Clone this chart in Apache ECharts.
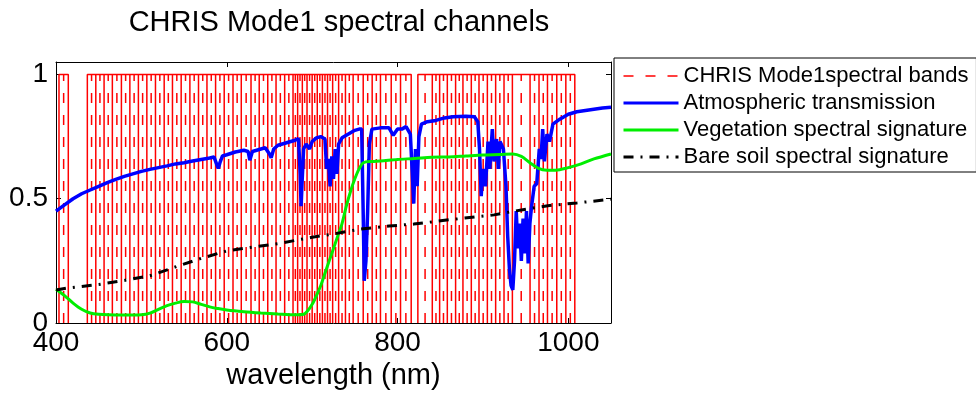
<!DOCTYPE html>
<html>
<head>
<meta charset="utf-8">
<title>CHRIS Mode1 spectral channels</title>
<script src="https://cdn.jsdelivr.net/npm/echarts@6/dist/echarts.min.js"></script>
<style>
  html, body { margin: 0; padding: 0; background: #fff; }
  #chart { width: 976px; height: 397px; }
</style>
</head>
<body>
<div id="chart"></div>
<script>
// band limits (nm) of the CHRIS mode 1 channels
var bandLow = [403.5,
  436.7, 446.6, 456.3, 466, 476.6, 486.5, 496.5, 506.4, 516.5, 526.7, 536.4, 546.6,
  556.8, 566.9, 576.8, 586.9, 597, 607.3, 617, 628.4, 638, 648, 657.7, 667.8,
  677.6, 683, 688.5, 694, 700, 706, 712, 718, 724, 731, 739, 748, 759.8, 770.3, 780, 792.6, 803.5,
  823.8, 840.7, 849.3, 858.3, 868, 876.6, 886.4, 895.4, 905.2, 914.9, 924.7, 934.5, 955.2,
  965.7, 975.6, 986.5, 997.1];
var bandHigh = [414.4,
  446.6, 456.3, 466, 476.6, 486.5, 496.5, 506.4, 516.5, 526.7, 536.4, 546.6, 556.8,
  566.9, 576.8, 586.9, 597, 607.3, 617, 628.4, 638, 648, 657.7, 667.8, 677.6,
  683, 688.5, 694, 700, 706, 712, 718, 724, 731, 739, 748, 759.8, 770.3, 780, 792.6, 803.5, 816,
  840.7, 849.3, 858.3, 868, 876.6, 886.4, 895.4, 905.2, 914.9, 924.7, 934.5, 955.2, 965.7,
  975.6, 986.5, 997.1, 1007.6];

// atmospheric transmission
var atmWl = [400, 410, 420, 430, 440, 450, 460, 470, 480, 490, 500, 510, 520, 530, 540, 550, 560, 570, 580, 585,
  588, 590, 592, 595, 600, 610, 620, 625, 627, 630, 640, 645, 650, 652, 655, 660, 670, 680, 684, 686,
  687, 688, 690, 693, 697, 700, 705, 710, 715, 717, 719, 721, 723, 725, 727, 729, 731, 735, 740, 745,
  750, 755, 758, 760, 761, 763, 765, 767, 770, 780, 790, 795, 797, 800, 805, 810, 815, 817, 819, 821,
  823, 825, 828, 835, 845, 855, 865, 880, 890, 894, 896, 898, 900, 903, 906, 908, 911, 913, 916, 918,
  920, 924, 927, 929, 931, 933, 935, 937, 939, 941, 943, 945, 947, 949, 951, 953, 955, 957, 960, 963,
  966, 968, 970, 972, 975, 978, 982, 990, 1000, 1010, 1020, 1030, 1040, 1050];
var atmT = [0.45, 0.475, 0.5, 0.52, 0.535, 0.55, 0.565, 0.578, 0.59, 0.6, 0.61, 0.618, 0.625, 0.632, 0.64, 0.645, 0.652, 0.658, 0.664, 0.668,
  0.64, 0.622, 0.645, 0.672, 0.677, 0.688, 0.695, 0.69, 0.655, 0.69, 0.7, 0.705, 0.68, 0.665, 0.7, 0.715, 0.725, 0.735, 0.742, 0.6,
  0.47, 0.55, 0.7, 0.72, 0.7, 0.73, 0.745, 0.75, 0.74, 0.62, 0.66, 0.55, 0.67, 0.58, 0.7, 0.6, 0.72, 0.745, 0.755, 0.765,
  0.775, 0.78, 0.78, 0.4, 0.17, 0.25, 0.45, 0.72, 0.78, 0.785, 0.785, 0.755, 0.75, 0.78, 0.78, 0.79, 0.76, 0.62, 0.48, 0.7,
  0.55, 0.75, 0.8, 0.81, 0.815, 0.825, 0.83, 0.832, 0.83, 0.81, 0.7, 0.51, 0.62, 0.55, 0.73, 0.62, 0.78, 0.65, 0.74, 0.62,
  0.73, 0.7, 0.55, 0.35, 0.22, 0.15, 0.133, 0.25, 0.45, 0.3, 0.4, 0.25, 0.42, 0.28, 0.45, 0.24, 0.4, 0.47, 0.55, 0.56,
  0.7, 0.66, 0.78, 0.65, 0.76, 0.73, 0.8, 0.82, 0.84, 0.85, 0.855, 0.86, 0.865, 0.868];

// vegetation reflectance
var vegWl = [400, 410, 420, 430, 440, 450, 470, 490, 500, 510, 520, 530, 540, 550, 560, 570, 580, 590, 600, 620,
  640, 660, 680, 690, 695, 700, 705, 710, 715, 720, 725, 730, 735, 740, 745, 750, 755, 760, 770, 780,
  800, 820, 840, 860, 880, 900, 920, 935, 945, 955, 965, 975, 985, 1000, 1015, 1030, 1050];
var vegR = [0.136, 0.11, 0.08, 0.055, 0.04, 0.035, 0.032, 0.032, 0.033, 0.04, 0.055, 0.07, 0.08, 0.086, 0.085, 0.075, 0.065, 0.058, 0.052, 0.045,
  0.04, 0.036, 0.033, 0.035, 0.05, 0.075, 0.11, 0.15, 0.2, 0.25, 0.3, 0.35, 0.4, 0.47, 0.53, 0.58, 0.62, 0.645, 0.65, 0.652,
  0.658, 0.662, 0.667, 0.668, 0.672, 0.676, 0.678, 0.68, 0.67, 0.645, 0.622, 0.615, 0.615, 0.625, 0.64, 0.66, 0.68];

// bare soil reflectance
var soilWl = [400, 412, 450, 483, 510, 541, 570, 600, 630, 663, 700, 725, 757, 790, 819, 860, 913, 945, 976, 1010, 1050];
var soilR = [0.133, 0.14, 0.155, 0.173, 0.19, 0.227, 0.26, 0.29, 0.305, 0.321, 0.345, 0.358, 0.378, 0.39, 0.398, 0.415, 0.435, 0.455, 0.472, 0.483, 0.498];

var yTicks = [0, 0.5, 1];

var FONT = 'Liberation Sans, Arial, Helvetica, sans-serif';

function pairs(xs, ys) {
  var arr = [];
  for (var i = 0; i < xs.length; i++) {
    arr.push([xs[i], ys[i]]);
  }
  return arr;
}

// outline of every band: up, across the top, down
function bandOutline() {
  var arr = [];
  for (var i = 0; i < bandLow.length; i++) {
    arr.push([bandLow[i], 0], [bandLow[i], 1], [bandHigh[i], 1], [bandHigh[i], 0]);
    if (i + 1 < bandLow.length && bandLow[i + 1] != bandHigh[i]) {
      arr.push([bandHigh[i], '-']);
    }
  }
  return arr;
}

// dashed line in the middle of every band
function bandMiddle() {
  var arr = [];
  for (var i = 0; i < bandLow.length; i++) {
    var c = (bandLow[i] + bandHigh[i]) / 2;
    arr.push([c, 0], [c, 1], [c, '-']);
  }
  return arr;
}

var chart = echarts.init(document.getElementById('chart'), null, { renderer: 'canvas' });

var axisCommon = {
  type: 'value',
  axisLine: { show: true, onZero: false, lineStyle: { color: '#000', width: 1 } },
  axisTick: { show: true, inside: true, length: 5, lineStyle: { color: '#000' } },
  splitLine: { show: false }
};

var option = {
  animation: false,
  backgroundColor: '#fff',
  textStyle: { fontFamily: FONT },
  title: {
    text: 'CHRIS Mode1 spectral channels',
    left: 334,
    top: 3,
    textAlign: 'center',
    textStyle: { fontFamily: FONT, fontSize: 29, fontWeight: 'normal', color: '#000' }
  },
  legend: {
    orient: 'vertical',
    left: 614,
    top: 58,
    padding: [7, 8, 4, 8],
    itemGap: 5,
    itemWidth: 55,
    itemHeight: 14,
    backgroundColor: '#fff',
    borderColor: '#000',
    borderWidth: 1,
    borderRadius: 0,
    itemStyle: { opacity: 0 },
    textStyle: { fontFamily: FONT, fontSize: 22, color: '#000' },
    data: [
      { name: 'CHRIS Mode1spectral bands', lineStyle: { width: 1.5 } },
      { name: 'Atmospheric transmission', lineStyle: { width: 3 } },
      { name: 'Vegetation spectral signature', lineStyle: { width: 3 } },
      { name: 'Bare soil spectral signature', lineStyle: { width: 3 } }
    ]
  },
  grid: { left: 56, right: 365, top: 62, bottom: 74 },
  xAxis: [
    echarts.util.merge({
      position: 'bottom', min: 400, max: 1050, interval: 200,
      name: 'wavelength (nm)', nameLocation: 'middle', nameGap: 37,
      nameTextStyle: { fontFamily: FONT, fontSize: 29, color: '#000' },
      axisLabel: {
        margin: 6, fontFamily: FONT, fontSize: 28, color: '#000',
        formatter: function (v) { return String(v); }
      }
    }, axisCommon),
    echarts.util.merge({
      position: 'top', min: 400, max: 1050, interval: 200,
      axisLabel: { show: false }
    }, axisCommon)
  ],
  yAxis: [
    echarts.util.merge({
      position: 'left', min: 0, max: 1.05, interval: 0.5,
      axisLabel: {
        margin: 8, fontFamily: FONT, fontSize: 28, color: '#000',
        formatter: function (v) { return yTicks.indexOf(v) >= 0 ? String(v) : ''; }
      }
    }, axisCommon),
    echarts.util.merge({
      position: 'right', min: 0, max: 1.05, interval: 0.5,
      axisLabel: { show: false }
    }, axisCommon)
  ],
  series: [
    {
      name: 'CHRIS Mode1spectral bands',
      type: 'line',
      symbol: 'none',
      connectNulls: false,
      lineStyle: { color: '#ff0000', width: 1.5, type: [10, 12] },
      itemStyle: { color: '#ff0000' },
      data: bandMiddle()
    },
    {
      name: 'CHRIS Mode1spectral bands',
      type: 'line',
      symbol: 'none',
      connectNulls: false,
      lineStyle: { color: '#ff0000', width: 1.5 },
      itemStyle: { color: '#ff0000' },
      data: bandOutline()
    },
    {
      name: 'Atmospheric transmission',
      type: 'line',
      symbol: 'none',
      lineStyle: { color: '#0000ff', width: 3.5 },
      itemStyle: { color: '#0000ff' },
      data: pairs(atmWl, atmT)
    },
    {
      name: 'Vegetation spectral signature',
      type: 'line',
      symbol: 'none',
      smooth: 0.3,
      lineStyle: { color: '#00ee00', width: 3 },
      itemStyle: { color: '#00ee00' },
      data: pairs(vegWl, vegR)
    },
    {
      name: 'Bare soil spectral signature',
      type: 'line',
      symbol: 'none',
      lineStyle: { color: '#000', width: 3, type: [10, 7, 2, 7] },
      itemStyle: { color: '#000' },
      data: pairs(soilWl, soilR)
    }
  ]
};

chart.setOption(option);
</script>
</body>
</html>
